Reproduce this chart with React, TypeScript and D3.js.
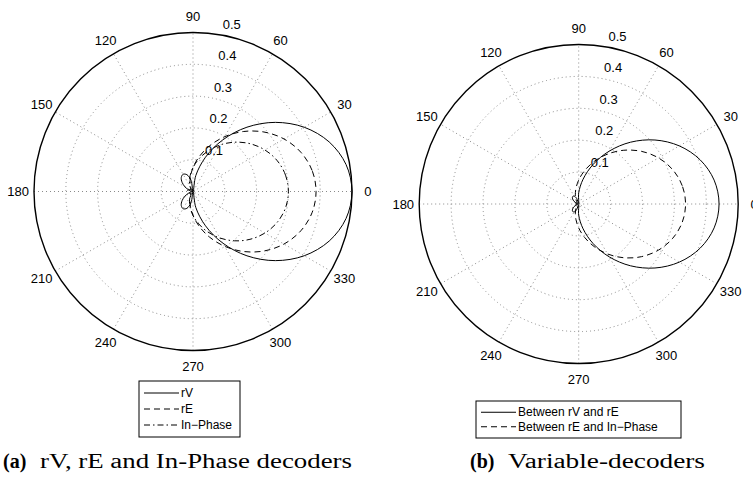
import React from 'react';
import * as d3 from 'd3';

// Angles in degrees (counter-clockwise from 0°)
const ANGLES = [0, 10, 20, 30, 40, 50, 60, 70, 80, 90, 100, 110, 120, 130, 140, 150, 160, 170,
  180, 190, 200, 210, 220, 230, 240, 250, 260, 270, 280, 290, 300, 310, 320, 330, 340, 350];

// (a) decoders
const RV = [0.5, 0.4887, 0.4557, 0.404, 0.3382, 0.264, 0.1875, 0.1148, 0.051, 0, 0.0359, 0.0563, 0.0625, 0.0574, 0.0448, 0.029, 0.0142, 0.0037,
  0, 0.0037, 0.0142, 0.029, 0.0448, 0.0574, 0.0625, 0.0563, 0.0359, 0, 0.051, 0.1148, 0.1875, 0.264, 0.3382, 0.404, 0.4557, 0.4887];
const RE = [0.387, 0.3804, 0.3609, 0.3304, 0.2911, 0.2462, 0.199, 0.1529, 0.1108, 0.075, 0.0469, 0.027, 0.015, 0.0096, 0.0092, 0.0117, 0.0151, 0.0179,
  0.019, 0.0179, 0.0151, 0.0117, 0.0092, 0.0096, 0.015, 0.027, 0.0469, 0.075, 0.1108, 0.1529, 0.199, 0.2462, 0.2911, 0.3304, 0.3609, 0.3804];
const IN_PHASE = [0.3, 0.2955, 0.2822, 0.2612, 0.2339, 0.2024, 0.1688, 0.1351, 0.1033, 0.075, 0.0512, 0.0325, 0.0188, 0.0096, 0.0041, 0.0013, 0.0003, 0,
  0, 0, 0.0003, 0.0013, 0.0041, 0.0096, 0.0188, 0.0325, 0.0512, 0.075, 0.1033, 0.1351, 0.1688, 0.2024, 0.2339, 0.2612, 0.2822, 0.2955];

// (b) variable decoders
const BETWEEN_RV_RE = [0.44, 0.4311, 0.4051, 0.3643, 0.3121, 0.2529, 0.1913, 0.1319, 0.0788, 0.035, 0.0024, 0.0186, 0.0288, 0.03, 0.025, 0.0168, 0.0084, 0.0022,
  0, 0.0022, 0.0084, 0.0168, 0.025, 0.03, 0.0288, 0.0186, 0.0024, 0.035, 0.0788, 0.1319, 0.1913, 0.2529, 0.3121, 0.3643, 0.4051, 0.4311];
const BETWEEN_RE_IP = [0.335, 0.3296, 0.3138, 0.2889, 0.2568, 0.2199, 0.1808, 0.1421, 0.1062, 0.075, 0.0496, 0.0306, 0.0178, 0.0103, 0.0071, 0.0066, 0.0075, 0.0086,
  0.009, 0.0086, 0.0075, 0.0066, 0.0071, 0.0103, 0.0178, 0.0306, 0.0496, 0.075, 0.1062, 0.1421, 0.1808, 0.2199, 0.2568, 0.2889, 0.3138, 0.3296];

const R_TICKS = [0.1, 0.2, 0.3, 0.4, 0.5];
const ANGLE_TICKS = [0, 30, 60, 90, 120, 150, 180, 210, 240, 270, 300, 330];
const SPOKES = [0, 30, 60, 90, 120, 150];

const LEGEND_A = ['rV', 'rE', 'In\u2212Phase'];
const LEGEND_B = ['Between rV and rE', 'Between rE and In\u2212Phase'];

const DASH_SOLID = 'none';
const DASH_DASHED = '6 4';
const DASH_DASHDOT = '6 3 1.5 3';

const SANS = 'Liberation Sans, Arial, Helvetica, sans-serif';
const SERIF = 'Liberation Serif, Times New Roman, serif';

type Series = { values: number[]; dash: string };

function PolarPanel({ cx, cy, R, series }: { cx: number; cy: number; R: number; series: Series[] }) {
  const rScale = d3.scaleLinear().domain([0, 0.5]).range([0, R]);
  const rad = (deg: number) => (deg * Math.PI) / 180;
  const line = d3
    .lineRadial<[number, number]>()
    .angle((d) => Math.PI / 2 - rad(d[0]))
    .radius((d) => rScale(d[1]))
    .curve(d3.curveCatmullRomClosed.alpha(0.5));

  const labelR = rScale(0.5) * 1.1;
  return (
    <g transform={`translate(${cx},${cy})`}>
      {R_TICKS.slice(0, 4).map((t) => (
        <circle key={t} r={rScale(t)} fill="none" stroke="#8a8a8a" strokeWidth={1} strokeDasharray="1 3" />
      ))}
      {SPOKES.map((a) => (
        <line
          key={a}
          x1={-R * Math.cos(rad(a))}
          y1={R * Math.sin(rad(a))}
          x2={R * Math.cos(rad(a))}
          y2={-R * Math.sin(rad(a))}
          stroke="#8a8a8a"
          strokeWidth={1}
          strokeDasharray="1 3"
        />
      ))}
      <circle r={rScale(0.5)} fill="none" stroke="#000" strokeWidth={1.4} />
      {series.map((s, i) => (
        <path
          key={i}
          d={line(ANGLES.map((a, j) => [a, s.values[j]] as [number, number])) || ''}
          fill="none"
          stroke="#000"
          strokeWidth={1}
          strokeDasharray={s.dash}
        />
      ))}
      {ANGLE_TICKS.map((a) => (
        <text
          key={a}
          x={labelR * Math.cos(rad(a))}
          y={-labelR * Math.sin(rad(a))}
          textAnchor="middle"
          dominantBaseline="central"
          fontFamily={SANS}
          fontSize={13}
        >
          {a}
        </text>
      ))}
      {R_TICKS.map((t) => (
        <text
          key={t}
          x={rScale(t) * Math.cos(rad(82)) + 7.6}
          y={-rScale(t) * Math.sin(rad(82)) - 10}
          textAnchor="start"
          dominantBaseline="central"
          fontFamily={SANS}
          fontSize={13}
        >
          {t}
        </text>
      ))}
    </g>
  );
}

function Legend({ x, y, w, rowH, labels, dashes }: { x: number; y: number; w: number; rowH: number; labels: string[]; dashes: string[] }) {
  const h = rowH * labels.length + 8;
  return (
    <g>
      <rect x={x} y={y} width={w} height={h} fill="#fff" stroke="#000" strokeWidth={1} />
      {labels.map((l, i) => {
        const yy = y + 4 + rowH * (i + 0.5);
        return (
          <g key={l}>
            <line x1={x + 5} x2={x + 40} y1={yy} y2={yy} stroke="#000" strokeWidth={1} strokeDasharray={dashes[i]} />
            <text x={x + 42} y={yy} dominantBaseline="central" fontFamily={SANS} fontSize={12}>
              {l}
            </text>
          </g>
        );
      })}
    </g>
  );
}

export default function App() {
  return (
    <svg
      width={753}
      height={477}
      viewBox="0 0 753 477"
      style={{ position: 'fixed', left: 0, top: 0, background: '#fff' }}
    >
      <rect width={753} height={477} fill="#fff" />
      <PolarPanel
        cx={193}
        cy={191.5}
        R={159}
        series={[
          { values: RV, dash: DASH_SOLID },
          { values: RE, dash: DASH_DASHED },
          { values: IN_PHASE, dash: DASH_DASHDOT },
        ]}
      />
      <PolarPanel
        cx={578.7}
        cy={204}
        R={159.5}
        series={[
          { values: BETWEEN_RV_RE, dash: DASH_SOLID },
          { values: BETWEEN_RE_IP, dash: DASH_DASHED },
        ]}
      />
      <Legend x={139} y={381} w={101} rowH={16} labels={LEGEND_A} dashes={[DASH_SOLID, DASH_DASHED, DASH_DASHDOT]} />
      <Legend x={476} y={401} w={205} rowH={14.5} labels={LEGEND_B} dashes={[DASH_SOLID, DASH_DASHED]} />
      <g fontFamily={SERIF} fontSize={20}>
        <text x={3} y={468} fontWeight="bold">(a)</text>
        <text x={40} y={468} textLength={312} lengthAdjust="spacingAndGlyphs">rV, rE and In-Phase decoders</text>
        <text x={470} y={468} fontWeight="bold">(b)</text>
        <text x={508} y={468} textLength={197} lengthAdjust="spacingAndGlyphs">Variable-decoders</text>
      </g>
    </svg>
  );
}
